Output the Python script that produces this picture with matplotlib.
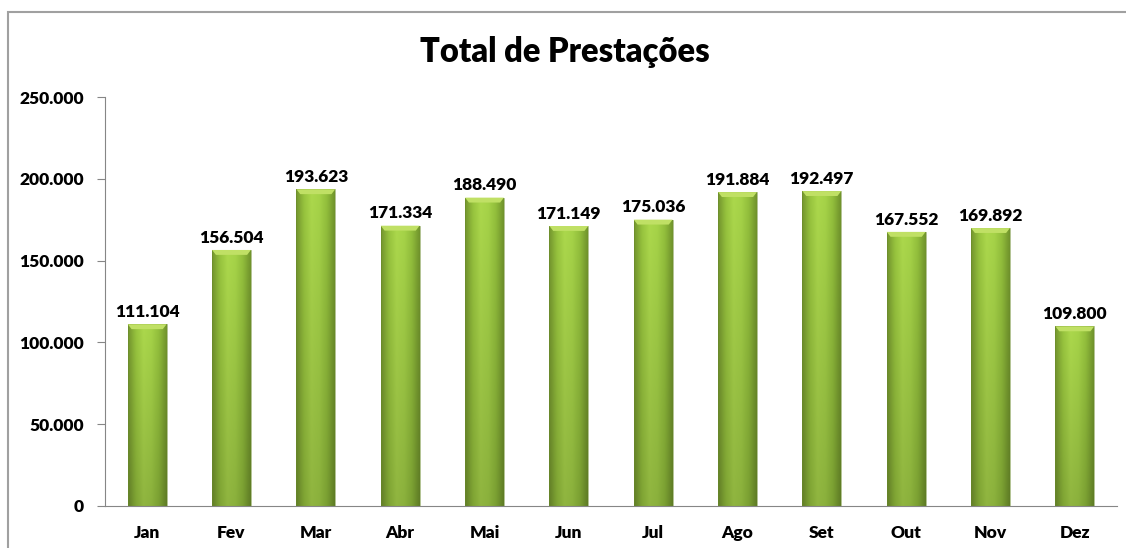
import numpy as np
import matplotlib
matplotlib.use("Agg")
from matplotlib import pyplot as plt
from matplotlib.patches import Rectangle, Polygon
from matplotlib.colors import to_rgb

meses = ["Jan", "Fev", "Mar", "Abr", "Mai", "Jun", "Jul", "Ago", "Set", "Out", "Nov", "Dez"]
prestacoes = [111104, 156504, 193623, 171334, 188490, 171149, 175036, 191884, 192497, 167552, 169892, 109800]
y_ticks = [0, 50000, 100000, 150000, 200000, 250000]

PESO = 800


def fmt_pt(v):
    # separador de milhares com ponto
    return f"{v:,}".replace(",", ".")


def bar_img(nx=48, ny=120):
    # gradiente horizontal (claro ao centro-esquerda) e escurecimento para baixo
    cols = np.array([to_rgb(c) for c in
                     ["#71922d", "#93be3c", "#a7d24a", "#a1cd46", "#8eb93a", "#6e902b"]])
    xs = np.linspace(0, 1, len(cols))
    t = np.linspace(0, 1, nx)
    row = np.stack([np.interp(t, xs, cols[:, k]) for k in range(3)], axis=-1)
    fy = np.linspace(1.03, 0.86, ny).reshape(-1, 1, 1)
    return np.clip(row[None, :, :] * fy, 0, 1)


plt.rcParams["font.family"] = ["Lato", "DejaVu Sans"]
plt.rcParams["font.weight"] = PESO

fig = plt.figure(figsize=(11.26, 5.48), dpi=100)
ax = fig.add_axes([105 / 1126, 42 / 548, 1012 / 1126, 409 / 548])

# moldura cinzenta do gráfico
fig.patches.append(Rectangle((8 / 1126, -0.1), 1.2, 1 - 12 / 548 + 0.1,
                             transform=fig.transFigure, fill=False,
                             edgecolor="#a0a0a0", linewidth=1.5))

img = bar_img()
x = np.arange(len(meses))
w = 0.46
bars = ax.bar(x, prestacoes, width=w, color="none", edgecolor="none", zorder=2)
bev = 3000
for b, v in zip(bars, prestacoes):
    x0 = b.get_x()
    im = ax.imshow(img, extent=[x0, x0 + w, 0, v], aspect="auto",
                   interpolation="bilinear", zorder=2)
    im.set_clip_path(b)
    ax.add_patch(Rectangle((x0, 0), w, v, fill=False, edgecolor="#6a8a2c",
                           linewidth=0.6, alpha=0.6, zorder=3))
    # topo biselado
    cap = Polygon([[x0, v], [x0 + w, v], [x0 + w - 0.045, v - bev], [x0 + 0.045, v - bev]],
                  closed=True, facecolor="#c0e065", edgecolor="none", zorder=3)
    ax.add_patch(cap)
    ax.text(b.get_x() + w / 2, v + 2600, fmt_pt(v), ha="center", va="bottom",
            fontsize=12.5, fontweight=PESO, color="black")

ax.set_xlim(-0.5, len(meses) - 0.5)
ax.set_ylim(0, 250000)
ax.set_yticks(y_ticks)
ax.set_yticklabels([fmt_pt(t) for t in y_ticks], fontsize=12.5, fontweight=PESO)
ax.set_xticks(x)
ax.set_xticklabels(meses, fontsize=12.5, fontweight=PESO)
ax.tick_params(axis="x", length=0, pad=14)
ax.tick_params(axis="y", length=6, color="#868686", pad=9)
for s in ["top", "right"]:
    ax.spines[s].set_visible(False)
for s in ["left", "bottom"]:
    ax.spines[s].set_color("#868686")

fig.text(565 / 1126, 1 - 52 / 548, "Total de Prestações", ha="center", va="center",
         fontsize=23.5, fontweight=PESO)

fig.savefig("out.png", dpi=100)
